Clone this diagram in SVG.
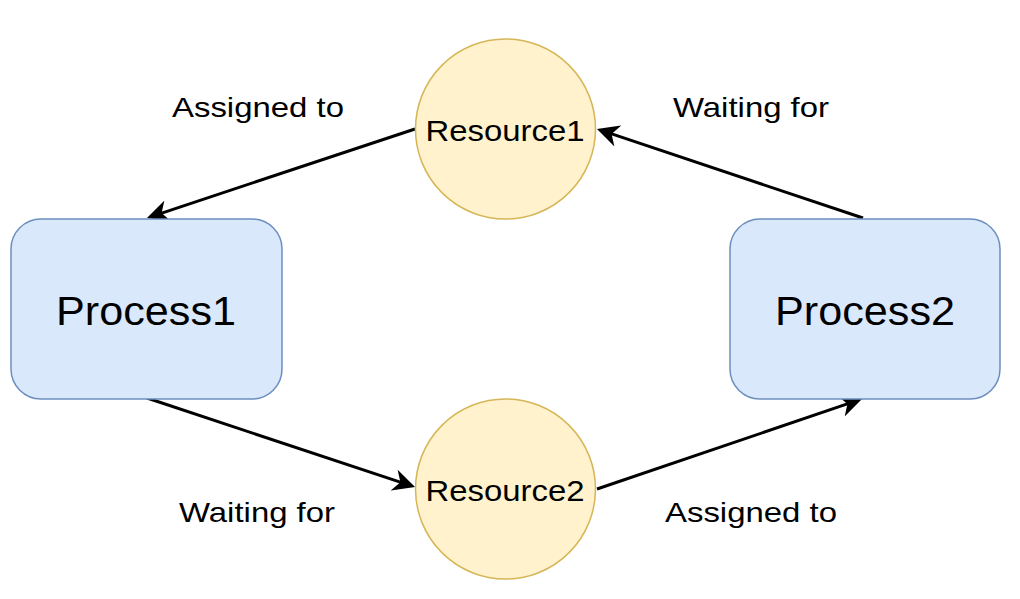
<svg xmlns="http://www.w3.org/2000/svg" width="1020" height="599" viewBox="0 0 1020 599">
<style>
  .proc { fill: #dae8fc; stroke: #6c8ebf; stroke-width: 1.5; }
  .res { fill: #fff2cc; stroke: #d6b656; stroke-width: 1.5; }
  .edge { fill: none; stroke: #000; stroke-width: 3; marker-end: url(#arrow); }
  text { font-family: "Liberation Sans", Arial, sans-serif; fill: #000; text-anchor: middle; }
  .lbl { font-size: 28px; }
  .rtxt { font-size: 30px; }
  .ptxt { font-size: 40px; }
</style>
<defs>
  <marker id="arrow" viewBox="0 0 10 10" refX="4" refY="5" markerWidth="22" markerHeight="22" markerUnits="userSpaceOnUse" orient="auto">
    <path d="M0,0 L10,5 L0,10 L3,5 Z" fill="#000"/>
  </marker>
</defs>
<rect width="1020" height="599" fill="#fff"/>
<g id="connectors">
  <path class="edge" d="M415,129 L159.5,213.8"/>
  <path class="edge" d="M863,218 L609.5,133.2"/>
  <path class="edge" d="M147,398 L402.5,482.9"/>
  <path class="edge" d="M597,489 L849.5,403.2"/>
</g>
<g id="labels">
  <text class="lbl" x="258" y="117" textLength="172" lengthAdjust="spacingAndGlyphs">Assigned to</text>
  <text class="lbl" x="751" y="117" textLength="156" lengthAdjust="spacingAndGlyphs">Waiting for</text>
  <text class="lbl" x="257" y="522" textLength="156" lengthAdjust="spacingAndGlyphs">Waiting for</text>
  <text class="lbl" x="751" y="522" textLength="172" lengthAdjust="spacingAndGlyphs">Assigned to</text>
</g>
<g id="Process1">
  <rect class="proc" x="11" y="219" width="271" height="180" rx="30" ry="30"/>
  <text class="ptxt" x="146" y="325" textLength="180" lengthAdjust="spacingAndGlyphs">Process1</text>
</g>
<g id="Process2">
  <rect class="proc" x="730" y="219" width="270" height="180" rx="30" ry="30"/>
  <text class="ptxt" x="865" y="325" textLength="180" lengthAdjust="spacingAndGlyphs">Process2</text>
</g>
<g id="Resource1">
  <circle class="res" cx="505.5" cy="129" r="90"/>
  <text class="rtxt" x="505" y="141" textLength="159" lengthAdjust="spacingAndGlyphs">Resource1</text>
</g>
<g id="Resource2">
  <circle class="res" cx="505.5" cy="489" r="90"/>
  <text class="rtxt" x="505" y="501" textLength="159" lengthAdjust="spacingAndGlyphs">Resource2</text>
</g>
</svg>
